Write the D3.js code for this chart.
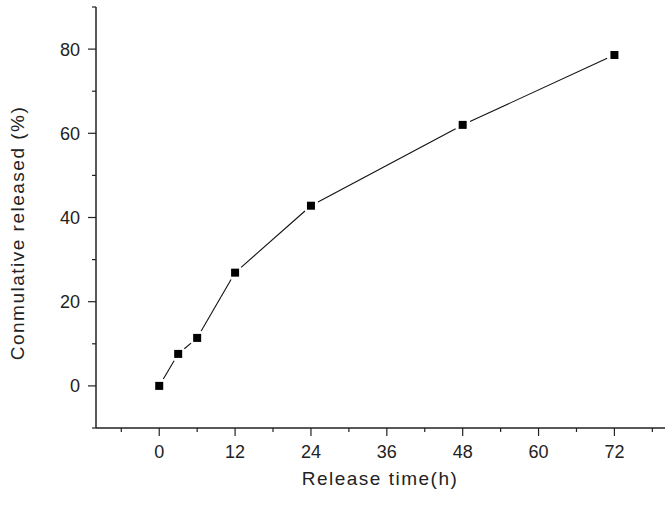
<!DOCTYPE html>
<html><head><meta charset="utf-8">
<script src="https://cdn.jsdelivr.net/npm/d3@7/dist/d3.min.js"></script>
<style>body{margin:0;background:#fff}svg{display:block}</style>
</head><body>
<script>
const timeHours = [0, 3, 6, 12, 24, 48, 72];
const releasedPct = [0, 7.6, 11.4, 26.9, 42.8, 62.0, 78.6];
const xTicks = [0, 12, 24, 36, 48, 60, 72];
const yTicks = [0, 20, 40, 60, 80];
const xLabel = "Release time(h)";
const yLabel = "Conmulative released (%)";

const W = 672, H = 505;
const svg = d3.select("body").append("svg").attr("width", W).attr("height", H);
const x = d3.scaleLinear().domain([-10, 80]).range([96, 665]);
const y = d3.scaleLinear().domain([-10, 90]).range([428, 7]);
const ink = "#222";
const font = "'Liberation Sans', Arial, sans-serif";

// minor ticks
const xMinor = d3.range(-6, 80, 6).filter(v => !xTicks.includes(v));
const yMinor = d3.range(-10, 91, 10).filter(v => !yTicks.includes(v));

const gx = svg.append("g").attr("transform", `translate(0,428)`);
gx.append("line").attr("x1", 96).attr("x2", 665).attr("stroke", ink).attr("stroke-width", 1.5);
gx.selectAll(".mj").data(xTicks).join("line").attr("x1", d => x(d)).attr("x2", d => x(d))
  .attr("y1", 0).attr("y2", 8).attr("stroke", ink).attr("stroke-width", 1.2);
gx.selectAll(".mn").data(xMinor).join("line").attr("class","mn").attr("x1", d => x(d)).attr("x2", d => x(d))
  .attr("y1", 0).attr("y2", 4).attr("stroke", ink).attr("stroke-width", 1.2);
gx.selectAll("text").data(xTicks).join("text").attr("x", d => x(d)).attr("y", 30)
  .attr("text-anchor", "middle").attr("font-family", font).attr("font-size", 18).attr("fill", ink).text(d => d);

const gy = svg.append("g").attr("transform", `translate(96,0)`);
gy.append("line").attr("y1", 7).attr("y2", 428).attr("stroke", ink).attr("stroke-width", 1.5);
gy.selectAll(".mj").data(yTicks).join("line").attr("class","mj").attr("y1", d => y(d)).attr("y2", d => y(d))
  .attr("x1", 0).attr("x2", -8).attr("stroke", ink).attr("stroke-width", 1.2);
gy.selectAll(".mn").data(yMinor).join("line").attr("class","mn").attr("y1", d => y(d)).attr("y2", d => y(d))
  .attr("x1", 0).attr("x2", -4).attr("stroke", ink).attr("stroke-width", 1.2);
gy.selectAll("text").data(yTicks).join("text").attr("x", -16).attr("y", d => y(d) + 6.5)
  .attr("text-anchor", "end").attr("font-family", font).attr("font-size", 18).attr("fill", ink).text(d => d);

svg.append("text").attr("x", 380).attr("y", 485).attr("text-anchor", "middle")
  .attr("font-family", font).attr("font-size", 19).attr("letter-spacing", 1.5).attr("fill", ink).text(xLabel);
svg.append("text").attr("transform", "translate(24,233) rotate(-90)").attr("text-anchor", "middle")
  .attr("font-family", font).attr("font-size", 19).attr("letter-spacing", 1.5).attr("fill", ink).text(yLabel);

// line segments with gaps at markers
const pts = timeHours.map((t, i) => [x(t), y(releasedPct[i])]);
const gap = 8;
const segs = d3.pairs(pts).map(([a, b]) => {
  const dx = b[0] - a[0], dy = b[1] - a[1], L = Math.hypot(dx, dy);
  const ux = dx / L, uy = dy / L;
  return [a[0] + ux * gap, a[1] + uy * gap, b[0] - ux * gap, b[1] - uy * gap];
});
svg.append("g").selectAll("line").data(segs).join("line")
  .attr("x1", d => d[0]).attr("y1", d => d[1]).attr("x2", d => d[2]).attr("y2", d => d[3])
  .attr("stroke", "#111").attr("stroke-width", 1.1);

svg.append("g").selectAll("rect").data(pts).join("rect")
  .attr("x", d => d[0] - 4).attr("y", d => d[1] - 4).attr("width", 8).attr("height", 8).attr("fill", "#000");
</script>
</body></html>
